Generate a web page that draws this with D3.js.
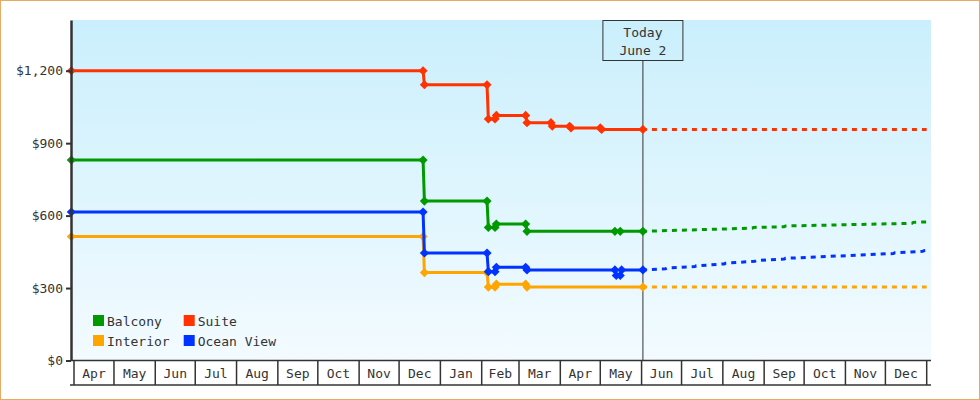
<!DOCTYPE html>
<html>
<head>
<meta charset="utf-8">
<script src="https://cdn.jsdelivr.net/npm/d3@7"></script>
<style>
  body { margin: 0; background: #fff; }
  svg { display: block; }
</style>
</head>
<body>
<div id="chart"></div>
<script>
"use strict";

// price history, [date, price]
const balcony_history = [
  ["2014-03-30", 830], ["2014-12-19", 830], ["2014-12-20", 660],
  ["2015-02-05", 660], ["2015-02-06", 551], ["2015-02-11", 551],
  ["2015-02-12", 565], ["2015-03-06", 565], ["2015-03-07", 535],
  ["2015-05-12", 535], ["2015-05-16", 535], ["2015-06-02", 535]
];
const interior_history = [
  ["2014-03-30", 513], ["2014-12-19", 513], ["2014-12-20", 364],
  ["2015-02-05", 364], ["2015-02-06", 304], ["2015-02-11", 304],
  ["2015-02-12", 316], ["2015-03-06", 316], ["2015-03-07", 304],
  ["2015-06-02", 304]
];
const ocean_history = [
  ["2014-03-30", 615], ["2014-12-19", 615], ["2014-12-20", 445],
  ["2015-02-05", 445], ["2015-02-06", 368], ["2015-02-11", 368],
  ["2015-02-12", 386], ["2015-03-06", 386], ["2015-03-07", 375],
  ["2015-05-12", 375], ["2015-05-13", 352], ["2015-05-16", 352],
  ["2015-05-17", 375], ["2015-06-02", 375]
];
const suite_history = [
  ["2014-03-30", 1200], ["2014-12-19", 1200], ["2014-12-20", 1142],
  ["2015-02-05", 1142], ["2015-02-06", 1000], ["2015-02-11", 1000],
  ["2015-02-12", 1015], ["2015-03-06", 1015], ["2015-03-07", 985],
  ["2015-03-25", 985], ["2015-03-26", 970], ["2015-04-08", 970],
  ["2015-04-09", 963], ["2015-05-01", 963], ["2015-05-02", 957],
  ["2015-06-02", 957]
];

// forecast from today to the end of the year
const balcony_forecast = [
  ["2015-06-02", 535], ["2015-08-23", 548], ["2015-08-24", 551],
  ["2015-09-16", 554], ["2015-09-17", 557], ["2015-12-21", 568],
  ["2015-12-22", 572], ["2016-01-01", 574]
];
const interior_forecast = [["2015-06-02", 304], ["2016-01-01", 304]];
const ocean_forecast = [
  ["2015-06-02", 375], ["2015-06-19", 380], ["2015-06-20", 383],
  ["2015-07-11", 389], ["2015-07-12", 392], ["2015-08-02", 400],
  ["2015-08-03", 403], ["2015-08-25", 411], ["2015-08-26", 414],
  ["2015-09-16", 420], ["2015-09-17", 423], ["2015-12-07", 443],
  ["2015-12-08", 446], ["2015-12-29", 452], ["2015-12-30", 455],
  ["2016-01-01", 456]
];
const suite_forecast = [["2015-06-02", 957], ["2016-01-01", 957]];

const series_names = ["Balcony", "Interior", "Ocean View", "Suite"];
const series_colors = ["#009900", "#ffa500", "#0033ff", "#ff3300"];
const legend_order = ["Balcony", "Suite", "Interior", "Ocean View"];

const price_ticks = [0, 300, 600, 900, 1200];
const price_max = 1410;
const month_labels = ["Apr", "May", "Jun", "Jul", "Aug", "Sep", "Oct", "Nov", "Dec",
                      "Jan", "Feb", "Mar", "Apr", "May", "Jun", "Jul", "Aug", "Sep",
                      "Oct", "Nov", "Dec"];
const axis_start = "2014-04-01";
const axis_end = "2016-01-01";
const today_date = "2015-06-02";
const today_label = ["Today", "June 2"];

let font_mono = "'DejaVu Sans Mono', monospace";
let ink = "#333";

const parse = d3.timeParse("%Y-%m-%d");
const histories = [balcony_history, interior_history, ocean_history, suite_history];
const forecasts = [balcony_forecast, interior_forecast, ocean_forecast, suite_forecast];
const series = series_names.map((name, i) => ({
    name,
    color: series_colors[i],
    history: histories[i].map(([d, v]) => ({date: parse(d), value: v})),
    forecast: forecasts[i].map(([d, v]) => ({date: parse(d), value: v}))
}));

let width = 980, height = 400;
let plot = {left: 71, right: 931, top: 20, bottom: 360.5};

let x = d3.scaleTime()
    .domain([parse(axis_start), parse(axis_end)])
    .range([74, 926.7]);
let y = d3.scaleLinear()
    .domain([0, price_max])
    .range([plot.bottom, plot.top]);

const svg = d3.select("#chart").append("svg")
    .attr("width", width)
    .attr("height", height)
    .style("font-family", font_mono);

// outer frame
svg.append("rect")
    .attr("x", 0.5).attr("y", 0.5)
    .attr("width", width - 1).attr("height", height - 1)
    .attr("fill", "#fff")
    .attr("stroke", "#e8a964");

const grad = svg.append("defs").append("linearGradient")
    .attr("id", "bg")
    .attr("x1", 0).attr("y1", 0).attr("x2", 0).attr("y2", 1);
grad.append("stop").attr("offset", "0%").attr("stop-color", "#caeffc");
grad.append("stop").attr("offset", "100%").attr("stop-color", "#f3fbff");

svg.append("rect")
    .attr("x", plot.left).attr("y", plot.top)
    .attr("width", plot.right - plot.left)
    .attr("height", plot.bottom - plot.top)
    .attr("fill", "url(#bg)");

// month cells under the plot
const months = d3.timeMonth.range(parse(axis_start), parse(axis_end));
const xaxis = svg.append("g")
    .attr("stroke", ink)
    .attr("stroke-width", 1.5);
xaxis.append("line")
    .attr("x1", plot.left).attr("x2", plot.right)
    .attr("y1", plot.bottom).attr("y2", plot.bottom);
xaxis.append("line")
    .attr("x1", plot.left - 1).attr("x2", plot.right)
    .attr("y1", 385).attr("y2", 385);
xaxis.selectAll("line.sep")
    .data(months.concat([parse(axis_end)]))
    .join("line")
    .attr("class", "sep")
    .attr("x1", d => x(d)).attr("x2", d => x(d))
    .attr("y1", plot.bottom).attr("y2", 385);
svg.append("g")
    .attr("fill", ink)
    .attr("font-size", 13)
    .attr("text-anchor", "middle")
  .selectAll("text")
  .data(months)
  .join("text")
    .attr("x", d => (x(d) + x(d3.timeMonth.offset(d, 1))) / 2)
    .attr("y", 378)
    .text((d, i) => month_labels[i]);

// today marker
const tx = x(parse(today_date));
svg.append("line")
    .attr("x1", tx).attr("x2", tx)
    .attr("y1", 60).attr("y2", plot.bottom)
    .attr("stroke", ink)
    .attr("stroke-width", 1);
svg.append("rect")
    .attr("x", tx - 40).attr("y", plot.top + 0.5)
    .attr("width", 80).attr("height", 40)
    .attr("fill", "none")
    .attr("stroke", ink);
svg.append("text")
    .attr("fill", ink)
    .attr("font-size", 13)
    .attr("text-anchor", "middle")
  .selectAll("tspan")
  .data(today_label)
  .join("tspan")
    .attr("x", tx)
    .attr("y", (d, i) => 36.5 + i * 18)
    .text(d => d);

// series
const line = d3.line()
    .x(d => x(d.date))
    .y(d => y(d.value));
const diamond = d3.symbol(d3.symbolSquare, 42);

const g = svg.append("g");
for (const s of series) {
    g.append("path")
        .attr("d", line(s.forecast))
        .attr("fill", "none")
        .attr("stroke", s.color)
        .attr("stroke-width", 3)
        .attr("stroke-dasharray", "5,5")
        .attr("stroke-dashoffset", 1);
    g.append("path")
        .attr("d", line(s.history))
        .attr("fill", "none")
        .attr("stroke", s.color)
        .attr("stroke-width", 3);
    g.append("g")
        .attr("fill", s.color)
      .selectAll("path")
      .data(s.history)
      .join("path")
        .attr("transform", d => `translate(${x(d.date)},${y(d.value)}) rotate(45)`)
        .attr("d", diamond);
}

// y axis
const yaxis = svg.append("g")
    .attr("transform", `translate(${plot.left},0)`)
    .call(d3.axisLeft(y)
        .tickValues(price_ticks)
        .tickFormat(d3.format("$,"))
        .tickSizeInner(5)
        .tickSizeOuter(0)
        .tickPadding(3));
yaxis.select(".domain")
    .attr("stroke", ink)
    .attr("stroke-width", 2.5);
yaxis.selectAll(".tick line")
    .attr("stroke", ink)
    .attr("stroke-width", 2);
yaxis.selectAll(".tick text")
    .attr("fill", ink)
    .attr("font-size", 13)
    .attr("font-family", font_mono);

// legend, two columns
const legend = svg.append("g")
    .attr("font-size", 13)
  .selectAll("g")
  .data(legend_order)
  .join("g")
    .attr("transform", (d, i) => `translate(${93 + (i % 2) * 90.7},${315 + Math.floor(i / 2) * 20})`);
legend.append("rect")
    .attr("width", 11).attr("height", 11)
    .attr("fill", d => series_colors[series_names.indexOf(d)]);
legend.append("text")
    .attr("x", 14)
    .attr("y", 10.5)
    .attr("fill", ink)
    .text(d => d);
</script>
</body>
</html>
